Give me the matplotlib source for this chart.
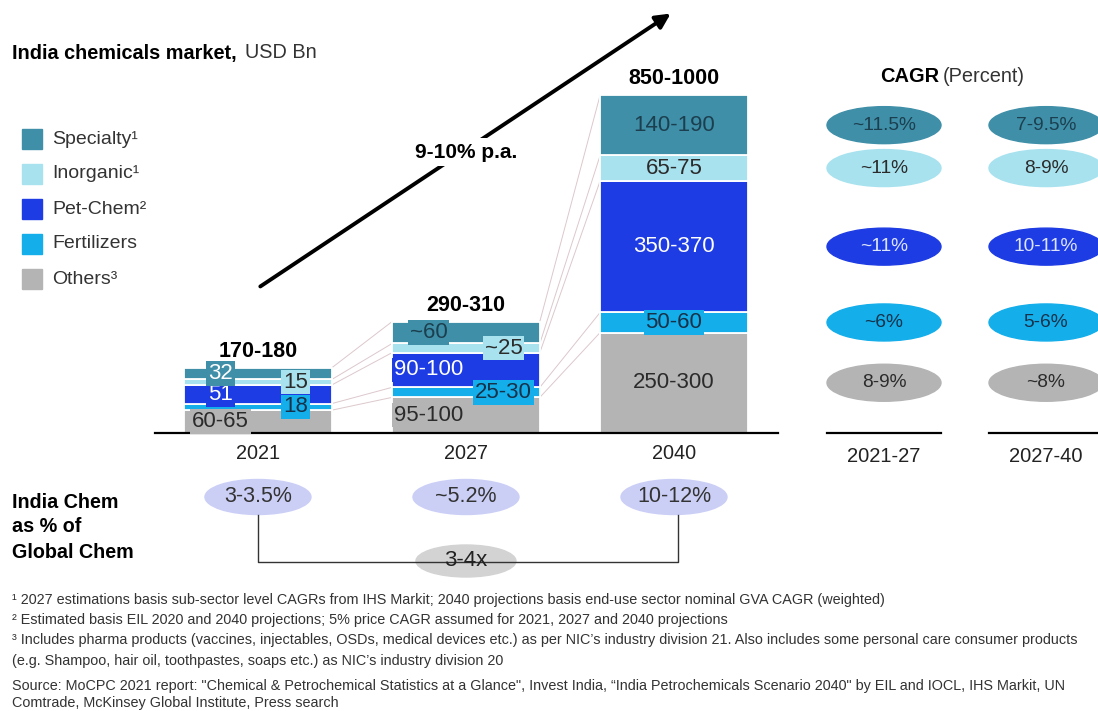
import matplotlib.pyplot as plt
from matplotlib.patches import Ellipse
import numpy as np

plt.rcParams['font.family'] = ['Liberation Sans', 'DejaVu Sans']

# datos (USD Bn, punto medio de cada rango)
anios = ['2021', '2027', '2040']
segmentos = ['Others', 'Fertilizers', 'Pet-Chem', 'Inorganic', 'Specialty']  # de abajo hacia arriba
others = [62.5, 97.5, 275]
fertilizers = [18, 27.5, 55]
petchem = [51, 95, 360]
inorganic = [15, 25, 70]
specialty = [32, 60, 165]

others_lbl = ['60-65', '95-100', '250-300']
fertilizers_lbl = ['18', '25-30', '50-60']
petchem_lbl = ['51', '90-100', '350-370']
inorganic_lbl = ['15', '~25', '65-75']
specialty_lbl = ['32', '~60', '140-190']
totales = ['170-180', '290-310', '850-1000']

# CAGR por segmento (mismo orden que segmentos)
cagr_21_27 = ['8-9%', '~6%', '~11%', '~11%', '~11.5%']
cagr_27_40 = ['~8%', '5-6%', '10-11%', '8-9%', '7-9.5%']
periodos = ['2021-27', '2027-40']

# India chem como % del global
porcentaje_global = ['3-3.5%', '~5.2%', '10-12%']
multiplo = '3-4x'

legend_lbl = ['Specialty¹', 'Inorganic¹', 'Pet-Chem²', 'Fertilizers', 'Others³']

colores = {'Specialty': '#3f8fa8', 'Inorganic': '#a8e2ef', 'Pet-Chem': '#1e3ce3',
           'Fertilizers': '#14aeea', 'Others': '#b4b4b4'}
texto_col = {'Specialty': '#1c3f4f', 'Inorganic': '#2b2b2b', 'Pet-Chem': 'white',
             'Fertilizers': '#15324a', 'Others': '#2b2b2b'}

W, H = 1098, 711
fig = plt.figure(figsize=(W / 100, H / 100), dpi=100)

# ejes de barras: base en y=433 px, 925 -> 338 px
base_px = 433
escala = 338 / 925
ax = fig.add_axes([155 / W, (H - base_px) / H, (778 - 155) / W, base_px / H])
ax.set_xlim(-0.495, 2.5)
ax.set_ylim(0, base_px / escala)
ax.patch.set_visible(False)
for s in ['top', 'right', 'left']:
    ax.spines[s].set_visible(False)
ax.spines['bottom'].set_linewidth(1.6)
ax.set_yticks([])
ax.set_xticks(range(3), anios, fontsize=14.3, color='#222222')
ax.tick_params(axis='x', length=0, pad=8)

x = np.arange(3)
ancho = 0.71
valores = [others, fertilizers, petchem, inorganic, specialty]
etiquetas = [others_lbl, fertilizers_lbl, petchem_lbl, inorganic_lbl, specialty_lbl]
lado = {'Others': -0.18, 'Fertilizers': 0.18, 'Pet-Chem': -0.18, 'Inorganic': 0.18, 'Specialty': -0.18}

abajo = np.zeros(3)
limites = []
for seg, vals, lbls in zip(segmentos, valores, etiquetas):
    vals = np.array(vals, dtype=float)
    ax.bar(x, vals, ancho, bottom=abajo, color=colores[seg], edgecolor='white', linewidth=1.3)
    for i in range(3):
        dx = 0 if i == 2 else lado[seg]
        col = texto_col[seg]
        if seg == 'Specialty' and i == 0:
            col = 'white'
        ax.text(x[i] + dx, abajo[i] + vals[i] / 2, lbls[i], ha='center', va='center',
                fontsize=16, color=col,
                bbox=dict(boxstyle='square,pad=0.08', fc=colores[seg], ec='none'))
    abajo = abajo + vals
    limites.append(abajo.copy())

# totales
for i in range(3):
    ax.annotate(totales[i], (x[i], abajo[i]), xytext=(0, 4), textcoords='offset points',
                ha='center', va='bottom', fontsize=15.5, fontweight='bold')

# lineas de conexion entre barras
for lim in [np.zeros(3)] + limites:
    for i in range(2):
        ax.plot([x[i] + ancho / 2, x[i + 1] - ancho / 2], [lim[i], lim[i + 1]],
                color='#dcc8cc', lw=0.7, zorder=0, clip_on=False)


def bar_px(xv, yv):
    d = ax.transData.transform((xv, yv))
    return d[0], H - d[1]


# capa de anotaciones en pixeles
ov = fig.add_axes([0, 0, 1, 1])
ov.set_xlim(0, W)
ov.set_ylim(H, 0)
ov.axis('off')

ov.text(12, 53, 'India chemicals market,', fontsize=14.3, fontweight='bold', va='center')
ov.text(245, 53, 'USD Bn', fontsize=14.3, va='center', color='#333333')

# leyenda
for k, (seg, lbl) in enumerate(zip(segmentos[::-1], legend_lbl)):
    yk = 139 + k * 35
    ov.add_patch(plt.Rectangle((22, yk - 10), 20, 20, color=colores[seg]))
    ov.text(52, yk, lbl, fontsize=14, va='center', color='#333333')

# flecha de crecimiento (cortada por la etiqueta)
ov.annotate('', xy=(673, 12), xytext=(258, 288),
            arrowprops=dict(arrowstyle='-|>', lw=2.8, color='black', mutation_scale=22))
ov.text(466, 152, '9-10% p.a.', fontsize=15, fontweight='bold', ha='center', va='center',
        zorder=5, bbox=dict(boxstyle='square,pad=0.22', fc='white', ec='none'))

# CAGR
ov.text(939, 76, 'CAGR', fontsize=14.4, fontweight='bold', ha='right', va='center')
ov.text(943, 76, '(Percent)', fontsize=14.4, ha='left', va='center', color='#333333')
col_x = [884, 1046]
for c, serie in enumerate([cagr_21_27, cagr_27_40]):
    abajo_c = 0
    for seg, vals, val in zip(segmentos, valores, serie):
        _, yc = bar_px(2, abajo_c + vals[2] / 2)
        abajo_c += vals[2]
        ov.add_patch(Ellipse((col_x[c], yc), 114, 37, color=colores[seg], clip_on=False))
        tc = '#dde4ff' if seg == 'Pet-Chem' else texto_col[seg]
        ov.text(col_x[c], yc, val, fontsize=13.8, ha='center', va='center', color=tc)
    ov.plot([col_x[c] - 57, col_x[c] + 57], [base_px, base_px], color='black', lw=1.6)
    ov.text(col_x[c], 456, periodos[c], fontsize=14.5, ha='center', va='center', color='#222222')

# India chem como % del global
ov.text(12, 502, 'India Chem', fontsize=14.2, fontweight='bold', va='center')
ov.text(12, 527, 'as % of', fontsize=14.2, fontweight='bold', va='center')
ov.text(12, 552, 'Global Chem', fontsize=14.2, fontweight='bold', va='center')
cx = [bar_px(i, 0)[0] for i in range(3)]
for i in range(3):
    ov.add_patch(Ellipse((cx[i], 497), 106, 35, color='#cbcff6'))
    ov.text(cx[i], 497, porcentaje_global[i], fontsize=15.5, ha='center', va='center', color='#333333')
ov.plot([cx[0], cx[0], cx[2] + 4, cx[2] + 4], [515, 562, 562, 515], color='#333333', lw=1)
ov.add_patch(Ellipse((cx[1], 561), 100, 32, color='#d3d3d3'))
ov.text(cx[1], 561, multiplo, fontsize=16, ha='center', va='center', color='#222222')

# notas al pie
notas = [
    (600, '¹ 2027 estimations basis sub-sector level CAGRs from IHS Markit; 2040 projections basis end-use sector nominal GVA CAGR (weighted)'),
    (620, '² Estimated basis EIL 2020 and 2040 projections; 5% price CAGR assumed for 2021, 2027 and 2040 projections'),
    (640, '³ Includes pharma products (vaccines, injectables, OSDs, medical devices etc.) as per NIC\u2019s industry division 21. Also includes some personal care consumer products'),
    (661, '(e.g. Shampoo, hair oil, toothpastes, soaps etc.) as NIC\u2019s industry division 20'),
    (686, 'Source: MoCPC 2021 report: "Chemical & Petrochemical Statistics at a Glance", Invest India, \u201cIndia Petrochemicals Scenario 2040" by EIL and IOCL, IHS Markit, UN'),
    (703, 'Comtrade, McKinsey Global Institute, Press search'),
]
for yv, t in notas:
    ov.text(12, yv, t, fontsize=10.4, va='center', color='#333333')

fig.savefig('out.png', dpi=100)
